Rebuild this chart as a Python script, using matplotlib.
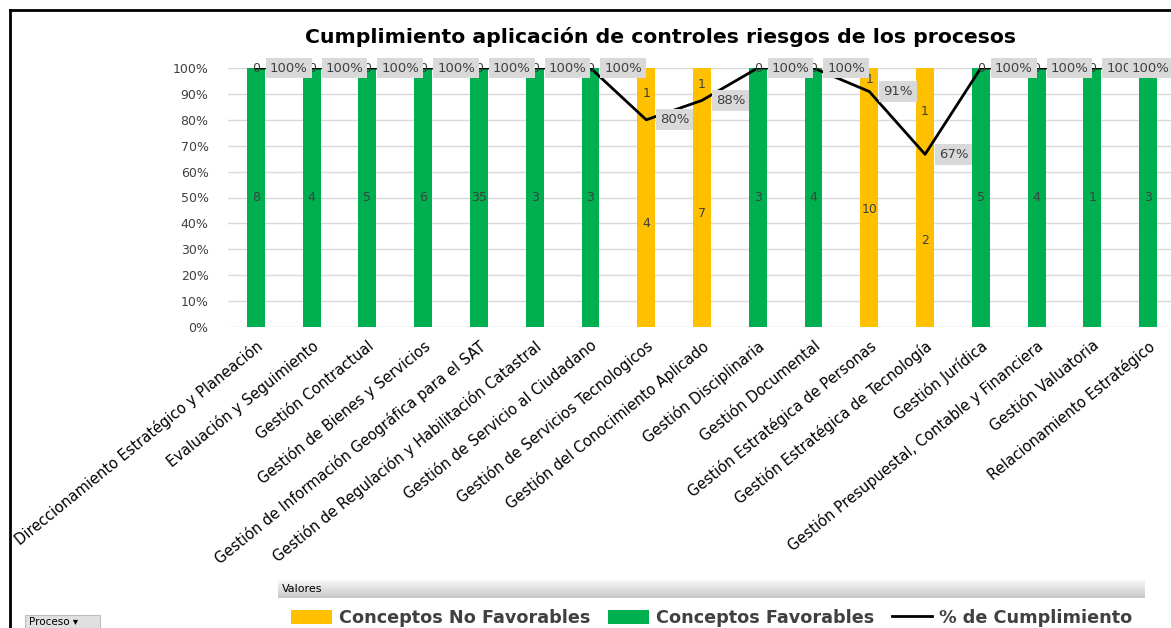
import numpy as np
import matplotlib
matplotlib.use('Agg')
import matplotlib.pyplot as plt
from matplotlib.patches import Rectangle
from matplotlib.lines import Line2D

procesos = ['Direccionamiento Estratégico y Planeación', 'Evaluación y Seguimiento',
            'Gestión Contractual', 'Gestión de Bienes y Servicios',
            'Gestión de Información Geográfica para el SAT',
            'Gestión de Regulación y Habilitación Catastral',
            'Gestión de Servicio al Ciudadano', 'Gestión de Servicios Tecnologicos',
            'Gestión del Conocimiento Aplicado', 'Gestión Disciplinaria',
            'Gestión Documental', 'Gestión Estratégica de Personas',
            'Gestión Estratégica de Tecnología', 'Gestión Jurídica',
            'Gestión Presupuestal, Contable y Financiera', 'Gestión Valuatoria',
            'Relacionamiento Estratégico']
favorables = [8, 4, 5, 6, 35, 3, 3, 4, 7, 3, 4, 10, 2, 5, 4, 1, 3]
no_favorables = [0, 0, 0, 0, 0, 0, 0, 1, 1, 0, 0, 1, 1, 0, 0, 0, 0]

GREEN = '#00B050'
YELLOW = '#FFC000'
TXT = '#404040'

fav = np.array(favorables, dtype=float)
nofav = np.array(no_favorables, dtype=float)
total = fav + nofav
cumpl = fav / total
x = np.arange(len(procesos))
colors = [YELLOW if n > 0 else GREEN for n in no_favorables]

fig = plt.figure(figsize=[11.71, 6.28], dpi=100)
ax = fig.add_axes([228/1171, 301/628, 943/1171, 259/628])

ax.bar(x, fav/total, width=0.32, color=colors, zorder=2)
ax.bar(x, nofav/total, bottom=fav/total, width=0.32, color=colors, zorder=2)
ax.plot(x, cumpl, color='black', lw=2, zorder=3)

# etiquetas de los segmentos
for i in range(len(x)):
    ax.text(x[i], fav[i]/total[i]/2, '%d' % favorables[i], ha='center', va='center',
            fontsize=9, color=TXT, zorder=4)
    if nofav[i] > 0:
        ytop = fav[i]/total[i] + nofav[i]/total[i]/2
    else:
        ytop = 1.0
    ax.text(x[i], ytop, '%d' % no_favorables[i], ha='center', va='center',
            fontsize=9, color=TXT, zorder=4)

# etiquetas de la linea
for i in range(len(x)):
    off = 10 if i < len(x)-1 else -12
    ax.annotate('%d%%' % round(cumpl[i]*100), (x[i], cumpl[i]), xytext=(off, 0),
                textcoords='offset points', ha='left', va='center', fontsize=9.5,
                color=TXT, zorder=5,
                bbox=dict(boxstyle='square,pad=0.3', fc='#D9D9D9', ec='none'))

ax.set_xlim(-0.5, 16.41)
ax.set_ylim(0, 1)
ax.set_yticks(np.arange(0, 1.01, 0.1))
ax.set_yticklabels(['%d%%' % v for v in range(0, 101, 10)], fontsize=9, color=TXT)
ax.set_xticks(x)
ax.set_xticklabels(procesos, rotation=39, ha='right', rotation_mode='anchor',
                   fontsize=10.5, color='black')
ax.tick_params(axis='x', length=0, pad=8)
ax.tick_params(axis='y', length=0, pad=14)
ax.grid(axis='y', color='#D9D9D9', lw=1, zorder=0)
for s in ax.spines.values():
    s.set_visible(False)

fig.text(660/1171, 1 - 37/628, 'Cumplimiento aplicación de controles riesgos de los procesos',
         ha='center', va='center', fontsize=14.7, fontweight='bold', color='black')

# marco
fig.add_artist(Line2D([10/1171, 1], [1 - 10/628]*2, color='black', lw=2))
fig.add_artist(Line2D([10/1171]*2, [0, 1 - 10/628], color='black', lw=2))

# barra "Valores"
vax = fig.add_axes([278/1171, 1 - 598/628, 867/1171, 18/628])
grad = np.linspace(0.97, 0.78, 50).reshape(-1, 1)
vax.imshow(grad, aspect='auto', cmap='gray', vmin=0, vmax=1, extent=[0, 1, 0, 1])
vax.set_axis_off()
vax.text(0.004, 0.5, 'Valores', ha='left', va='center', fontsize=8, color='black')

# boton "Proceso"
fig.add_artist(Rectangle((25/1171, 0), 75/1171, 13/628, transform=fig.transFigure,
                         fc='#E0E0E0', ec='#BFBFBF', lw=0.8))
fig.text(29/1171, 6/628, 'Proceso ▾', ha='left', va='center', fontsize=7.5, color='black')

handles = [Rectangle((0, 0), 1, 1, fc=YELLOW, ec='none'),
           Rectangle((0, 0), 1, 1, fc=GREEN, ec='none'),
           Line2D([0], [0], color='black', lw=2)]
leg = fig.legend(handles, ['Conceptos No Favorables', 'Conceptos Favorables', '% de Cumplimiento'],
                 loc='center', bbox_to_anchor=(712/1171, 10/628), ncol=3, frameon=False,
                 handlelength=2.3, handleheight=0.9, columnspacing=1.0, handletextpad=0.4,
                 prop={'size': 12.7, 'weight': 'bold'})
for t in leg.get_texts():
    t.set_color(TXT)

fig.savefig('out.png', dpi=100)
